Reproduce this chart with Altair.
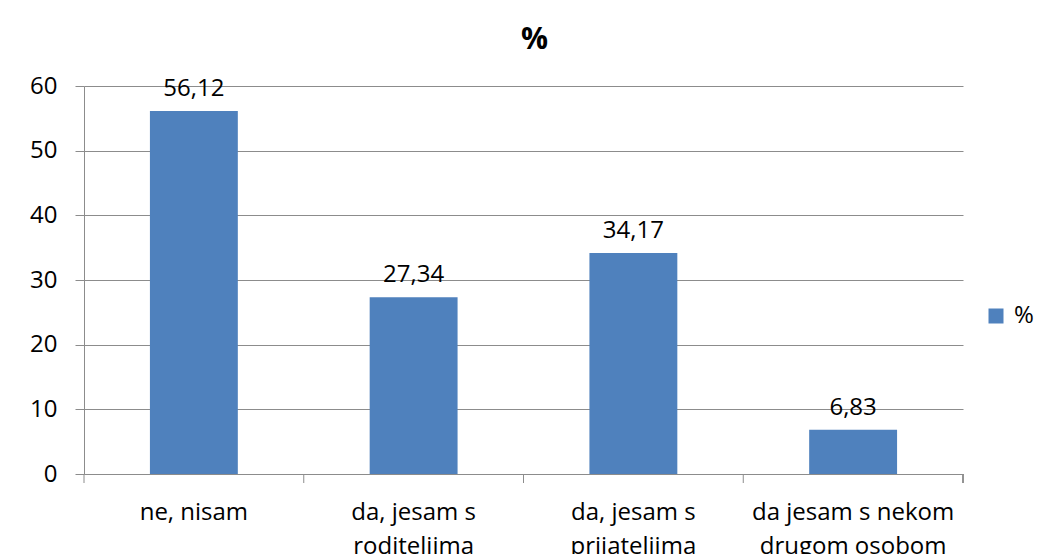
import altair as alt
import pandas as pd

categories = ["ne, nisam", "da, jesam s\nroditeljima", "da, jesam s\nprijateljima", "da jesam s nekom\ndrugom osobom"]
values = [56.12, 27.34, 34.17, 6.83]
series = "%"
y_ticks = [0, 10, 20, 30, 40, 50, 60]

labels = [f"{v:.2f}".replace(".", ",") for v in values]
df = pd.DataFrame({"cat": categories, "val": values, "lab": labels, "series": [series] * len(values)})

FONT = "Open Sans"
GRID = "#8c8c8c"
FS = 24
W = 879
H = 388

xscale = alt.Scale(paddingInner=0, paddingOuter=0)

base = alt.Chart(df).encode(
    x=alt.X("cat:N", sort=categories, title=None, scale=xscale,
            axis=alt.Axis(labelExpr="split(datum.value, '\\n')", labelAngle=0,
                          labelFontSize=FS, labelColor="#000000", labelFont=FONT,
                          labelPadding=26, labelLineHeight=34, labelBaseline="top",
                          labelLimit=400, ticks=False, domainColor=GRID, grid=False)),
)

bars = base.mark_bar(color="#4F81BD", width=alt.RelativeBandSize(0.4)).encode(
    y=alt.Y("val:Q", title=None,
            scale=alt.Scale(domain=[0, 60]),
            axis=alt.Axis(values=y_ticks, labelFontSize=FS, labelColor="#000000", labelFont=FONT,
                          tickSize=9, tickColor=GRID, domainColor=GRID, gridColor=GRID,
                          labelPadding=18)),
    color=alt.Color("series:N", scale=alt.Scale(range=["#4F81BD"]),
                    legend=alt.Legend(title=None, orient="none", legendX=900, legendY=218,
                                      symbolType="square", symbolSize=225,
                                      labelFontSize=FS, labelFont=FONT, labelColor="#000000",
                                      labelOffset=6, symbolStrokeWidth=0)),
)

text = base.mark_text(baseline="alphabetic", dy=-15, fontSize=FS, font=FONT, color="#000000").encode(
    y=alt.Y("val:Q"),
    text="lab:N",
)

# category-boundary tick marks below the x axis (left edge of every band + right end of the axis)
ticks_start = alt.Chart(df).mark_rule(color=GRID, strokeWidth=1).encode(
    x=alt.X("cat:N", sort=categories, bandPosition=0),
    y=alt.value(H), y2=alt.value(H + 9),
)
tick_end = alt.Chart(df).mark_rule(color=GRID, strokeWidth=1).encode(
    x=alt.value(W), y=alt.value(H), y2=alt.value(H + 9),
)

chart = (bars + text + ticks_start + tick_end).properties(
    width=W, height=H,
    background="white",
    autosize=alt.AutoSizeParams(type="none"),
    padding={"left": 76, "top": 78, "right": 74, "bottom": 80},
    title=alt.TitleParams(text="%", fontSize=30, font=FONT, fontWeight="bold", color="#000000",
                          anchor="middle", dx=11, offset=19),
).configure_view(strokeWidth=0)

chart.save("out.html", embed_options={"renderer": "svg", "actions": False})
